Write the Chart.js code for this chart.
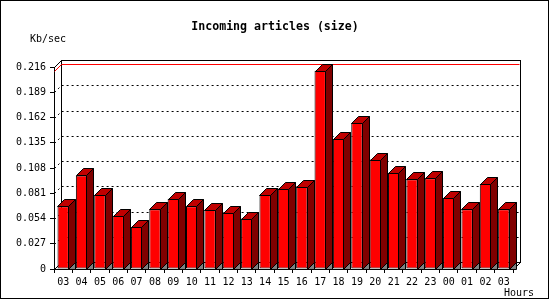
<!DOCTYPE html>
<html>
<head>
<meta charset="utf-8">
<script src="https://cdn.jsdelivr.net/npm/chart.js@4.4.1/dist/chart.umd.min.js"></script>
<style>
  body { margin: 0; background: #fff; }
  canvas { display: block; }
</style>
</head>
<body>
<canvas id="stats" width="550" height="300"></canvas>
<script>
'use strict';

// hours on the x axis
var hours = ['03', '04', '05', '06', '07', '08', '09', '10', '11', '12', '13', '14', '15',
             '16', '17', '18', '19', '20', '21', '22', '23', '00', '01', '02', '03'];
// incoming size, Kb/sec
var kbPerSec = [0.067, 0.100, 0.079, 0.057, 0.045, 0.064, 0.075, 0.067, 0.063, 0.060, 0.054, 0.079, 0.086,
                0.088, 0.212, 0.139, 0.156, 0.117, 0.103, 0.096, 0.097, 0.076, 0.064, 0.091, 0.064];
// y axis ticks
var yTicks = [0, 0.027, 0.054, 0.081, 0.108, 0.135, 0.162, 0.189, 0.216];

var titleText = 'Incoming articles (size)';
var yUnit = 'Kb/sec';
var xUnit = 'Hours';

var DEPTH = 7; // 3d offset in px

function line(ctx, pts) {
    ctx.beginPath();
    ctx.moveTo(pts[0][0], pts[0][1]);
    for (var i = 1; i < pts.length; i++) ctx.lineTo(pts[i][0], pts[i][1]);
    ctx.stroke();
}

function poly(ctx, pts, fill) {
    ctx.beginPath();
    ctx.moveTo(pts[0][0], pts[0][1]);
    for (var i = 1; i < pts.length; i++) ctx.lineTo(pts[i][0], pts[i][1]);
    ctx.closePath();
    ctx.fillStyle = fill;
    ctx.fill();
    ctx.stroke();
}

// back wall, grid, max line
var frame3d = {
    id: 'frame3d',
    beforeDatasetsDraw: function(chart) {
        var ctx = chart.ctx, a = chart.chartArea, y = chart.scales.y;
        var L = Math.round(a.left) + 0.5, R = Math.round(a.right) + 0.5;
        var T = Math.round(a.top) + 0.5, B = Math.round(a.bottom) + 0.5;
        ctx.save();
        ctx.lineWidth = 1;
        ctx.strokeStyle = '#000';

        // dotted grid on the back wall
        ctx.setLineDash([2, 3]);
        yTicks.forEach(function(v) {
            if (v <= 0 || v >= yTicks[yTicks.length - 1]) return;
            var yy = Math.round(y.getPixelForValue(v)) + 0.5;
            line(ctx, [[L, yy], [L + DEPTH, yy - DEPTH], [R + DEPTH, yy - DEPTH]]);
        });
        ctx.setLineDash([]);

        // back wall + side edges
        ctx.strokeRect(L + DEPTH, T - DEPTH, R - L, B - T);
        line(ctx, [[L, T], [L + DEPTH, T - DEPTH]]);
        line(ctx, [[L, B], [L + DEPTH, B - DEPTH]]);
        line(ctx, [[R, B], [R + DEPTH, B - DEPTH]]);

        // red line at the maximum
        var ym = Math.round(y.getPixelForValue(Math.max.apply(null, kbPerSec))) + 0.5;
        ctx.strokeStyle = '#ff0000';
        line(ctx, [[L, ym], [L + DEPTH, ym - DEPTH], [R + DEPTH - 1, ym - DEPTH]]);
        ctx.restore();
    }
};

// top and side faces of the bars
var bars3d = {
    id: 'bars3d',
    afterDatasetsDraw: function(chart) {
        var ctx = chart.ctx;
        ctx.save();
        ctx.lineWidth = 1;
        ctx.strokeStyle = '#000';
        chart.getDatasetMeta(0).data.forEach(function(bar) {
            var p = bar.getProps(['x', 'y', 'base', 'width'], true);
            var l = Math.round(p.x - p.width / 2) + 0.5, r = Math.round(p.x + p.width / 2) - 0.5;
            var t = Math.round(p.y) + 0.5, b = Math.round(p.base) + 0.5;
            poly(ctx, [[r, b], [r + DEPTH, b - DEPTH], [r + DEPTH, b]], '#808080');
            poly(ctx, [[r, t], [r + DEPTH, t - DEPTH], [r + DEPTH, b - DEPTH], [r, b]], '#800000');
            poly(ctx, [[l, t], [l + DEPTH, t - DEPTH], [r + DEPTH, t - DEPTH], [r, t]], '#c00000');
        });
        ctx.restore();
    }
};

// title, units, outer border
var texts = {
    id: 'texts',
    afterDraw: function(chart) {
        var ctx = chart.ctx;
        ctx.save();
        ctx.fillStyle = '#000';
        ctx.textBaseline = 'middle';
        ctx.font = 'bold 11.6px "DejaVu Sans Mono"';
        ctx.textAlign = 'center';
        ctx.fillText(titleText, 275, 27);
        ctx.font = '10px "DejaVu Sans Mono"';
        ctx.textAlign = 'left';
        ctx.fillText(yUnit, 30, 39);
        ctx.textAlign = 'right';
        ctx.fillText(xUnit, 534, 293);
        ctx.strokeStyle = '#000';
        ctx.lineWidth = 1;
        ctx.strokeRect(0.5, 0.5, 548, 298);
        ctx.restore();
    }
};

Chart.defaults.font.family = '"DejaVu Sans Mono"';
Chart.defaults.font.size = 10;
Chart.defaults.color = '#000';

var ctx = document.getElementById('stats').getContext('2d');
new Chart(ctx, {
    type: 'bar',
    data: {
        labels: hours,
        datasets: [{
            data: kbPerSec,
            backgroundColor: '#ff0000',
            borderColor: '#000',
            borderWidth: 1,
            borderSkipped: false,
            categoryPercentage: 1,
            barPercentage: 0.62
        }]
    },
    options: {
        responsive: false,
        animation: false,
        devicePixelRatio: 1,
        layout: { padding: { left: 0, right: 37, top: 67, bottom: 0 } },
        plugins: { legend: { display: false }, tooltip: { enabled: false } },
        scales: {
            x: {
                afterFit: function(s) { s.height = 31; },
                grid: { drawOnChartArea: false, tickLength: 4, color: '#000' },
                border: { color: '#000' },
                ticks: { padding: 3, maxRotation: 0, autoSkip: false }
            },
            y: {
                min: 0,
                max: yTicks[yTicks.length - 1],
                afterFit: function(s) { s.width = 54; },
                afterBuildTicks: function(s) {
                    s.ticks = yTicks.map(function(v) { return { value: v }; });
                },
                grid: { drawOnChartArea: false, tickLength: 4, color: '#000' },
                border: { color: '#000' },
                ticks: {
                    padding: 4,
                    callback: function(v) { return v === 0 ? '0' : v.toFixed(3); }
                }
            }
        }
    },
    plugins: [frame3d, bars3d, texts]
});
</script>
</body>
</html>
